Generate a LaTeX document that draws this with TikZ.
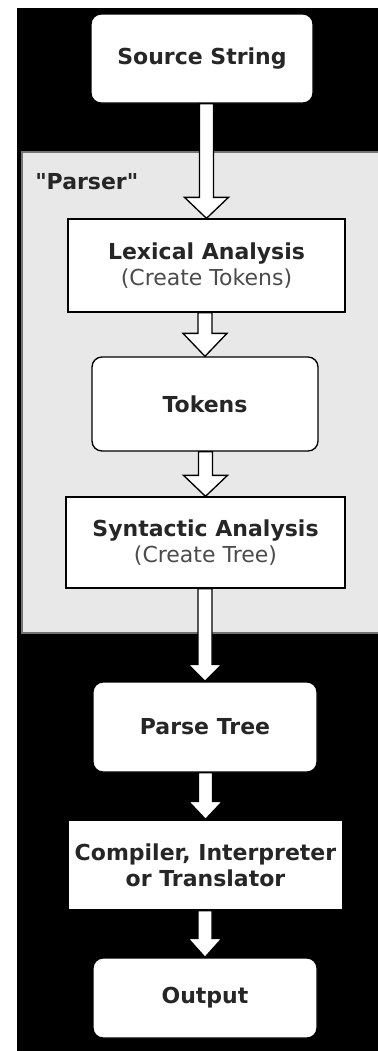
\documentclass[tikz,border=0pt]{standalone}
\usepackage{fontspec}
\setmainfont{DejaVu Sans}[Ligatures=TeXOff]
\usetikzlibrary{calc}
\begin{document}
\fontsize{16.5}{19.5}\selectfont
\begin{tikzpicture}[x=0.75pt,y=-0.75pt,
	box/.style={draw=black,fill=white,line width=1pt,align=center,inner sep=0pt,font=\bfseries,text=black!85},
	rbox/.style={box,rounded corners=7.5pt},
	hollow/.style={draw=black,fill=white,line width=1pt,line join=miter}]
	\def\u{0.75pt}
	\newcommand\sub[1]{{\mdseries\color{black!70}#1}}
	\useasboundingbox[fill=white] (0,0) rectangle (378,1051);
	\fill[black] (17,8) rectangle (378,1051);
	\draw[fill=black!9,draw=black!55,line width=0.8pt] (22,152) rectangle (380,633);
	\node[font=\bfseries,text=black!85,anchor=west,inner sep=0pt] (parser) at (35,182) {"Parser"};
	\node[rbox,minimum width=222*\u,minimum height=89*\u] (src) at (202,58.5) {Source String};
	\node[box,minimum width=277*\u,minimum height=93*\u] (lex) at (206.5,265.5) {Lexical Analysis\\\sub{(Create Tokens)}};
	\node[rbox,minimum width=226*\u,minimum height=94*\u] (tok) at (205,404) {Tokens};
	\node[box,minimum width=279*\u,minimum height=91*\u] (syn) at (205.5,542.5) {Syntactic Analysis\\\sub{(Create Tree)}};
	\node[rbox,minimum width=224*\u,minimum height=90*\u] (ptree) at (205,727) {Parse Tree};
	\node[box,minimum width=275*\u,minimum height=90*\u] (comp) at (205.5,865) {Compiler, Interpreter\\or Translator};
	\node[rbox,minimum width=224*\u,minimum height=80*\u] (out) at (205,998) {Output};
	\foreach \s/\t/\hw/\hl in {src/lex/22/21,lex/tok/22/23,tok/syn/22/21,syn/ptree/17/17,ptree/comp/17/18,comp/out/17/19}
	\draw[hollow] ($(\t.north|-\s.south)+(-7,0)$)--($(\t.north)+(-7,-\hl)$)--($(\t.north)+(-\hw,-\hl)$)--(\t.north)
		--($(\t.north)+(\hw,-\hl)$)--($(\t.north)+(7,-\hl)$)--($(\t.north|-\s.south)+(7,0)$)--cycle;
\end{tikzpicture}
\end{document}
